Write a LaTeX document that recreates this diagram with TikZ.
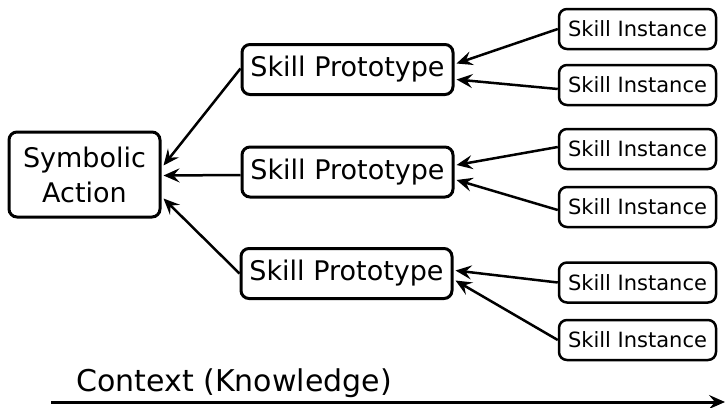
\documentclass[tikz,border=0pt]{standalone}
\usepackage{fontspec}
\setmainfont{DejaVu Sans}
\usetikzlibrary{arrows.meta,calc}
\begin{document}
\begin{tikzpicture}[x=1pt,y=-1pt,
  box/.style={draw, line width=3pt, rounded corners=8pt, inner sep=0pt, align=center},
  action/.style={box, minimum width=151pt, minimum height=85pt, font=\fontsize{27}{35}\selectfont},
  proto/.style={box, minimum width=211pt, minimum height=50pt, font=\fontsize{27}{33}\selectfont},
  inst/.style={box, line width=2.5pt, minimum width=157pt, minimum height=40pt, font=\fontsize{21}{25}\selectfont},
  link/.style={line width=2.5pt, -{Stealth[length=16pt,width=14pt,inset=6pt]}},
]
\useasboundingbox (0,0) rectangle (725,407);

\node[action] (sa) at (84.5,174.5) {Symbolic\\Action};

\node[proto] (p1) at (347.5,69.5) {Skill Prototype};
\node[proto] (p2) at (347.5,172) {Skill Prototype};
\node[proto] (p3) at (346.5,273.5) {Skill Prototype};

\node[inst] (i1) at (637.5,29) {Skill Instance};
\node[inst] (i2) at (637.5,85) {Skill Instance};
\node[inst] (i3) at (637.5,149) {Skill Instance};
\node[inst] (i4) at (637.5,207) {Skill Instance};
\node[inst] (i5) at (637.5,282.5) {Skill Instance};
\node[inst] (i6) at (637.5,340) {Skill Instance};

% instances feed their prototypes
\draw[link] (i1.west) -- ([yshift=6pt,xshift=2pt]p1.east);
\draw[link] ([yshift=-4pt]i2.west) -- ([yshift=-10pt,xshift=2pt]p1.east);
\draw[link] ([yshift=2pt]i3.west) -- ([yshift=7pt,xshift=2pt]p2.east);
\draw[link] ([yshift=-3pt]i4.west) -- ([yshift=-8pt,xshift=2pt]p2.east);
\draw[link] (i5.west) -- ([yshift=3pt,xshift=2pt]p3.east);
\draw[link] (i6.west) -- ([yshift=-7pt,xshift=2pt]p3.east);

% prototypes feed the symbolic action
\draw[link] ([yshift=1pt]p1.west) -- ([yshift=9pt,xshift=2pt]sa.east);
\draw[link] ([yshift=-3pt]p2.west) -- ([yshift=-1pt,xshift=2pt]sa.east);
\draw[link] (p3.west) -- ([yshift=-24pt,xshift=2pt]sa.east);

% context axis
\coordinate (c0) at (51,402);
\coordinate (c1) at (725,402);
\draw[line width=3pt, -{Stealth[length=16pt,width=14pt,inset=6pt]}] (c0) -- (c1);
\node[font=\fontsize{30}{36}\selectfont, anchor=base west] (ctx) at (73,391) {Context (Knowledge)};
\end{tikzpicture}
\end{document}
